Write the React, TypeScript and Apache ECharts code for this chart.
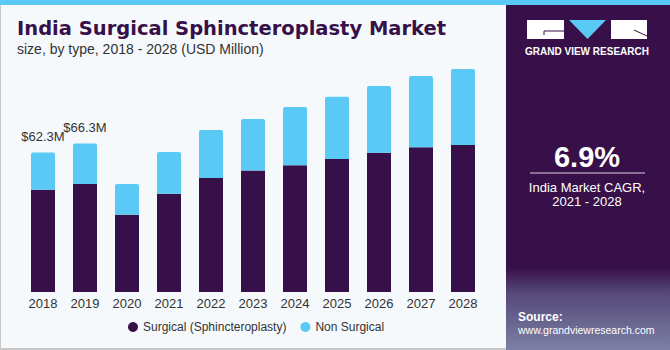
import React, { useEffect, useRef } from "react";
import * as echarts from "echarts";

const years = ["2018", "2019", "2020", "2021", "2022", "2023", "2024", "2025", "2026", "2027", "2028"];
const surgical = [45.6, 48.2, 34.5, 43.9, 50.9, 54.2, 56.6, 59.4, 62.2, 64.6, 65.6];
const nonSurgical = [16.7, 18.1, 13.7, 18.6, 21.4, 23.0, 26.0, 27.8, 29.8, 31.8, 34.0];
const valueLabels = ["$62.3M", "$66.3M", "", "", "", "", "", "", "", "", ""];

const PURPLE = "#381049";
const BLUE = "#5bc9f6";

export default function App() {
  const ref = useRef<HTMLDivElement>(null);
  useEffect(() => {
    document.body.style.margin = "0";
    const chart = echarts.init(ref.current!, null, { renderer: "svg" });
    chart.setOption({
      animation: false,
      backgroundColor: "#f5f9fc",
      grid: { left: 22, width: 462, top: 68, bottom: 58, containLabel: false },
      xAxis: {
        type: "category",
        data: years,
        axisLine: { show: false },
        axisTick: { show: false },
        axisLabel: { color: "#333333", fontSize: 13, fontFamily: "Liberation Sans", margin: 5 },
      },
      yAxis: { type: "value", min: 0, max: 100, show: false, splitLine: { show: false } },
      legend: {
        bottom: 12,
        left: 123,
        icon: "circle",
        itemWidth: 10,
        itemHeight: 10,
        itemGap: 14,
        textStyle: { color: "#333333", fontSize: 12, fontFamily: "Liberation Sans" },
        data: ["Surgical (Sphincteroplasty)", "Non Surgical"],
      },
      series: [
        {
          name: "Surgical (Sphincteroplasty)",
          type: "bar",
          stack: "t",
          barWidth: 24,
          data: surgical,
          itemStyle: { color: PURPLE },
        },
        {
          name: "Non Surgical",
          type: "bar",
          stack: "t",
          barWidth: 24,
          data: nonSurgical,
          itemStyle: { color: BLUE, borderRadius: [2, 2, 0, 0] },
          label: {
            show: true,
            position: "top",
            distance: 9,
            color: "#333333",
            fontSize: 13,
            fontFamily: "Liberation Sans",
            formatter: (p: any) => valueLabels[p.dataIndex],
          },
        },
      ],
      graphic: [
        { type: "rect", shape: { x: 0, y: 0, width: 670, height: 5 }, style: { fill: BLUE }, z: 10 },
        { type: "rect", shape: { x: 0, y: 5, width: 1, height: 345 }, style: { fill: "#c8c8c8" } },
        { type: "rect", shape: { x: 0, y: 348, width: 506, height: 2 }, style: { fill: "#c8c8c8" } },
        {
          type: "text",
          left: 17,
          top: 18,
          style: {
            text: "India Surgical Sphincteroplasty Market",
            fill: PURPLE,
            font: "bold 19.5px 'DejaVu Sans', sans-serif",
          },
        },
        {
          type: "text",
          left: 17,
          top: 42,
          style: {
            text: "size, by type, 2018 - 2028 (USD Million)",
            fill: "#333333",
            font: "14px 'Liberation Sans', sans-serif",
          },
        },
        { type: "rect", shape: { x: 506, y: 5, width: 164, height: 345 }, style: { fill: PURPLE } },
        {
          type: "rect",
          shape: { x: 506, y: 268, width: 164, height: 82 },
          style: {
            fill: new echarts.graphic.LinearGradient(0, 0, 0, 1, [
              { offset: 0, color: "rgba(56,16,73,1)" },
              { offset: 0.3, color: "rgba(85,72,120,1)" },
              { offset: 1, color: "rgba(125,128,165,1)" },
            ]),
          },
        },
        { type: "rect", shape: { x: 527, y: 20, width: 37, height: 19 }, style: { fill: "#ffffff" } },
        { type: "line", shape: { x1: 544, y1: 31, x2: 564, y2: 31 }, style: { stroke: PURPLE, lineWidth: 1 } },
        { type: "line", shape: { x1: 544, y1: 31, x2: 544, y2: 35 }, style: { stroke: PURPLE, lineWidth: 1 } },
        { type: "polygon", shape: { points: [[569, 20], [606, 20], [587.5, 39]] }, style: { fill: BLUE } },
        { type: "rect", shape: { x: 611, y: 20, width: 36, height: 19 }, style: { fill: "#ffffff" } },
        { type: "line", shape: { x1: 634, y1: 30, x2: 647, y2: 36 }, style: { stroke: PURPLE, lineWidth: 1 } },
        {
          type: "text",
          x: 587,
          y: 51,
          style: {
            text: "GRAND VIEW RESEARCH",
            fill: "#ffffff",
            font: "bold 10px 'Liberation Sans', sans-serif",
            align: "center",
            verticalAlign: "middle",
          },
        },
        {
          type: "text",
          x: 587,
          y: 157,
          style: {
            text: "6.9%",
            fill: "#ffffff",
            font: "bold 29px 'Liberation Sans', sans-serif",
            align: "center",
            verticalAlign: "middle",
          },
        },
        { type: "line", shape: { x1: 530, y1: 173, x2: 645, y2: 173 }, style: { stroke: "#d8d0e0", lineWidth: 1 } },
        {
          type: "text",
          x: 587,
          y: 187,
          style: {
            text: "India Market CAGR,",
            fill: "#ffffff",
            font: "13px 'Liberation Sans', sans-serif",
            align: "center",
            verticalAlign: "middle",
          },
        },
        {
          type: "text",
          x: 587,
          y: 201,
          style: {
            text: "2021 - 2028",
            fill: "#ffffff",
            font: "13px 'Liberation Sans', sans-serif",
            align: "center",
            verticalAlign: "middle",
          },
        },
        {
          type: "text",
          x: 518,
          y: 317,
          style: {
            text: "Source:",
            fill: "#ffffff",
            font: "bold 12px 'Liberation Sans', sans-serif",
            verticalAlign: "middle",
          },
        },
        {
          type: "text",
          x: 518,
          y: 330,
          style: {
            text: "www.grandviewresearch.com",
            fill: "#ffffff",
            font: "10.5px 'Liberation Sans', sans-serif",
            verticalAlign: "middle",
          },
        },
      ],
    });
    return () => chart.dispose();
  }, []);
  return <div ref={ref} style={{ width: 670, height: 350 }} />;
}
